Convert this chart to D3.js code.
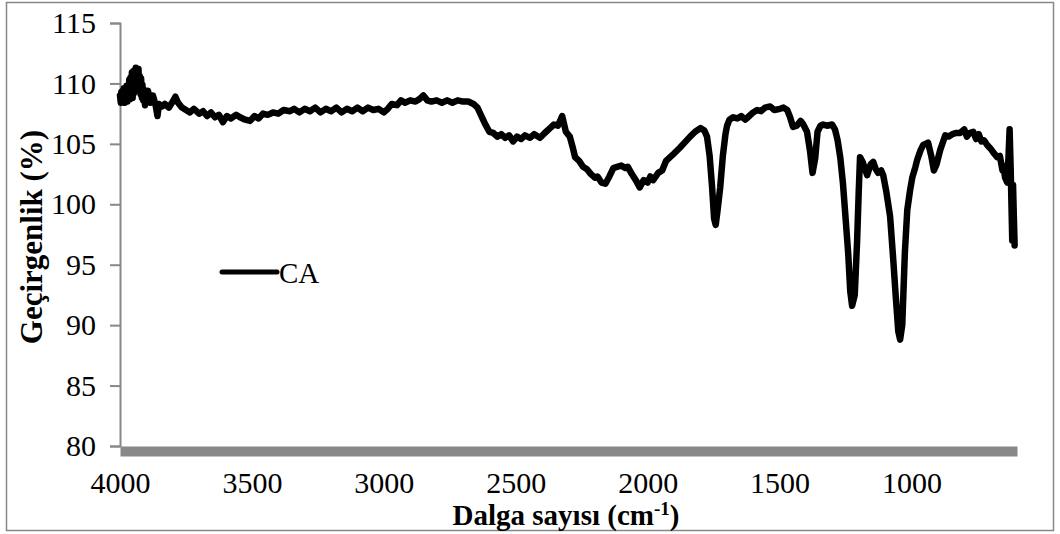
<!DOCTYPE html>
<html>
<head>
<meta charset="utf-8">
<script src="https://cdn.jsdelivr.net/npm/d3@7"></script>
<style>
  html, body { margin: 0; padding: 0; background: #fff; }
  svg { display: block; }
  text { font-family: "Liberation Serif", "Times New Roman", serif; fill: #000; }
</style>
</head>
<body>
<svg id="chart" width="1060" height="534"></svg>
<script>
// ---- Data ----
const seriesName = "CA";
const wavenumber = [
  4000,3997,3995,3992,3990,3987,3985,3982,3980,3977,3975,3972,3970,3967,3965,3962,3960,3957,3955,3952,
  3950,3947,3945,3942,3940,3937,3935,3932,3930,3927,3925,3922,3920,3917,3915,3912,3910,3905,3900,3897,
  3894,3885,3875,3865,3858,3852,3840,3830,3815,3800,3790,3780,3765,3750,3735,3720,3700,3685,3670,3655,
  3640,3625,3610,3595,3580,3560,3545,3525,3507,3490,3475,3458,3440,3420,3400,3380,3356,3340,3320,3300,
  3280,3260,3240,3220,3200,3180,3160,3140,3120,3100,3080,3060,3040,3020,3000,2985,2970,2950,2935,2920,
  2900,2880,2865,2850,2835,2820,2800,2780,2760,2740,2720,2700,2680,2660,2645,2630,2615,2600,2585,2570,
  2555,2540,2525,2510,2495,2480,2465,2446,2430,2408,2390,2370,2355,2340,2324,2310,2295,2285,2275,2260,
  2245,2230,2215,2200,2190,2175,2160,2145,2130,2116,2100,2085,2075,2060,2045,2030,2015,2000,1990,1979,
  1960,1945,1930,1915,1900,1877,1860,1839,1820,1800,1785,1775,1765,1756,1748,1742,1735,1725,1715,1705,
  1699,1690,1676,1660,1645,1630,1620,1600,1585,1570,1555,1536,1520,1498,1485,1471,1460,1449,1435,1420,
  1410,1396,1385,1375,1365,1356,1345,1335,1320,1301,1290,1280,1270,1260,1252,1240,1232,1225,1215,1206,
  1200,1195,1185,1168,1155,1145,1135,1126,1115,1107,1095,1081,1069,1060,1050,1043,1035,1025,1016,1005,
  997,985,978,965,956,945,937,925,915,905,891,880,872,860,845,830,816,800,790,780,
  766,755,745,735,725,713,700,690,675,665,655,652,645,637,632,628,624,620,618,615,
  612,609
];
const transmittance = [
  109.0,108.4,109.3,108.5,109.4,108.6,109.6,108.4,109.4,108.7,109.8,108.5,109.6,108.9,110.3,108.7,110.5,109.0,110.9,108.8,
  111.0,109.2,111.1,109.5,111.3,109.8,111.2,110.0,111.2,109.4,110.6,109.1,110.4,108.8,109.9,108.6,109.5,108.2,109.2,108.5,
  109.4,108.4,109.0,108.2,107.3,108.3,108.1,108.3,108.0,108.5,108.9,108.4,108.0,107.8,107.6,107.9,107.5,107.7,107.3,107.6,
  107.2,107.4,106.8,107.3,107.1,107.4,107.2,107.0,106.9,107.3,107.1,107.5,107.4,107.6,107.5,107.8,107.7,107.9,107.6,107.9,
  107.7,108.0,107.6,107.9,107.7,108.0,107.6,107.9,107.7,108.0,107.7,108.0,107.8,107.9,107.6,107.9,108.3,108.2,108.6,108.4,
  108.6,108.5,108.7,109.0,108.6,108.5,108.6,108.4,108.6,108.4,108.6,108.5,108.5,108.3,108.0,107.3,106.6,106.0,105.9,105.6,
  105.8,105.5,105.7,105.2,105.6,105.4,105.7,105.5,105.8,105.5,105.9,106.3,106.6,106.5,107.3,106.0,105.6,104.8,103.9,103.6,
  103.1,102.9,102.5,102.2,102.3,101.8,101.7,102.3,103.0,103.1,103.2,103.0,103.1,102.5,102.0,101.4,102.0,101.8,102.3,102.0,
  102.6,102.8,103.6,103.9,104.2,104.7,105.1,105.6,106.0,106.3,106.1,105.6,104.0,101.5,98.8,98.3,99.5,101.4,104.0,105.8,
  106.5,107.0,107.2,107.1,107.3,107.0,107.2,107.6,107.8,107.7,108.0,108.1,107.8,107.9,108.0,107.8,107.2,106.4,106.5,106.9,
  106.6,106.0,104.5,102.6,103.8,106.0,106.5,106.6,106.5,106.6,106.2,105.3,103.9,101.8,99.5,96.0,92.8,91.6,92.5,97.0,
  101.0,103.9,103.5,102.4,103.3,103.5,102.9,102.6,102.8,102.4,101.0,99.0,95.4,92.5,89.5,88.8,90.0,96.0,99.5,101.2,
  102.2,103.1,103.7,104.5,104.9,105.0,105.1,104.0,102.8,103.3,104.5,105.2,105.7,105.6,105.8,105.9,105.9,106.2,105.6,105.9,
  106.0,105.4,105.8,105.2,105.3,104.9,104.6,104.3,103.9,104.0,102.8,103.2,102.2,101.8,104.0,106.2,103.0,99.0,97.0,101.6,
  99.0,96.6
];
const yTicks = [80, 85, 90, 95, 100, 105, 110, 115];
const xTicks = [4000, 3500, 3000, 2500, 2000, 1500, 1000];
const xDomain = [4000, 600];
const yDomain = [80, 115];
const xTitle = "Dalga sayısı (cm";
const xTitleSup = "-1";
const yTitle = "Geçirgenlik (%)";

// ---- Layout ----
const svg = d3.select("#chart");
const plot = { left: 120, right: 1017, top: 23, bottom: 446 };
const axisGray = "#888888";

const x = d3.scaleLinear().domain(xDomain).range([plot.left, plot.right]);
const y = d3.scaleLinear().domain(yDomain).range([plot.bottom, plot.top]);

// outer border
svg.append("rect")
  .attr("x", 6.5).attr("y", 2.5).attr("width", 1047).attr("height", 528)
  .attr("fill", "none").attr("stroke", axisGray).attr("stroke-width", 1.5);

// y axis
const yAxis = d3.axisLeft(y).tickValues(yTicks).tickSize(10).tickPadding(14).tickFormat(d3.format("d"));
const gy = svg.append("g").attr("transform", `translate(${plot.left},0)`).call(yAxis);
gy.select(".domain").attr("stroke", axisGray).attr("stroke-width", 2);
gy.selectAll(".tick line").attr("stroke", axisGray).attr("stroke-width", 2);
gy.selectAll(".tick text").style("font-size", "30px").style("font-family", "Liberation Serif").attr("fill", "#000");

// x axis (thick gray bar, no tick marks)
const xAxis = d3.axisBottom(x).tickValues(xTicks).tickSize(0).tickPadding(21).tickFormat(d3.format("d"));
const gx = svg.append("g").attr("transform", `translate(0,${plot.bottom + 5})`).call(xAxis);
gx.select(".domain").attr("stroke", axisGray).attr("stroke-width", 10);
gx.selectAll(".tick text").style("font-size", "30px").style("font-family", "Liberation Serif").attr("fill", "#000");

// line
const pts = wavenumber.map((w, i) => [w, transmittance[i]]);
const line = d3.line().x(d => x(d[0])).y(d => y(d[1])).curve(d3.curveLinear);
svg.append("path").datum(pts)
  .attr("d", line)
  .attr("fill", "none").attr("stroke", "#000").attr("stroke-width", 6.5)
  .attr("stroke-linejoin", "round").attr("stroke-linecap", "round");

// legend
svg.append("line").attr("x1", 222).attr("x2", 277).attr("y1", 272).attr("y2", 272)
  .attr("stroke", "#000").attr("stroke-width", 5).attr("stroke-linecap", "round");
svg.append("text").attr("x", 279).attr("y", 283).style("font-size", "29px").text(seriesName);

// axis titles
const xt = svg.append("text").attr("x", 566).attr("y", 525).attr("text-anchor", "middle")
  .style("font-size", "29px").style("font-weight", "bold");
xt.append("tspan").text(xTitle);
xt.append("tspan").attr("dy", -10).style("font-size", "19px").text(xTitleSup);
xt.append("tspan").attr("dy", 10).text(")");

svg.append("text")
  .attr("transform", "translate(42,237) rotate(-90)")
  .attr("text-anchor", "middle")
  .style("font-size", "31px").style("font-weight", "bold")
  .text(yTitle);
</script>
</body>
</html>
